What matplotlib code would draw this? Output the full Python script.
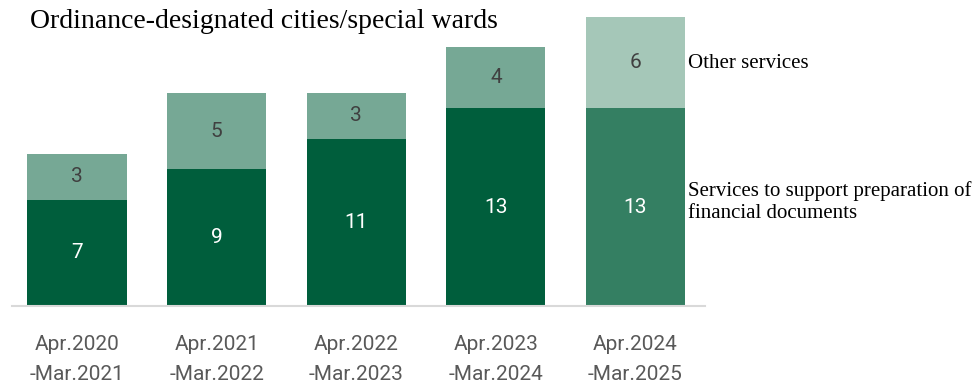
import matplotlib.pyplot as plt

periods = ["Apr.2020\n-Mar.2021", "Apr.2021\n-Mar.2022", "Apr.2022\n-Mar.2023",
           "Apr.2023\n-Mar.2024", "Apr.2024\n-Mar.2025"]
financial_docs = [7, 9, 11, 13, 13]
other_services = [3, 5, 3, 4, 6]

dark = ["#005E3C", "#005E3C", "#005E3C", "#005E3C", "#347F62"]
light = ["#76A895", "#76A895", "#76A895", "#76A895", "#A5C7B8"]

fig = plt.figure(figsize=(9.8, 3.84), dpi=100)
ax = fig.add_axes([12 / 980, 78 / 384, 693 / 980, 289 / 384])

x = range(len(periods))
ax.bar(x, financial_docs, width=0.71, color=dark)
ax.bar(x, other_services, width=0.71, bottom=financial_docs, color=light)

for i in x:
    ax.text(i, financial_docs[i] / 2, str(financial_docs[i]), ha="center", va="center",
            color="white", fontsize=15, family="Roboto")
    ax.text(i, financial_docs[i] + other_services[i] / 2, str(other_services[i]),
            ha="center", va="center", color="#404040", fontsize=15, family="Roboto")

ax.set_xlim(-0.466, 4.498)
ax.set_ylim(0, 19)
ax.set_xticks(list(x))
ax.set_xticklabels(periods, fontsize=15, color="#595959", family="Roboto", linespacing=1.7)
ax.tick_params(axis="x", length=0, pad=21)
ax.set_yticks([])
for s in ["top", "right", "left"]:
    ax.spines[s].set_visible(False)
ax.spines["bottom"].set_color("#D9D9D9")
ax.spines["bottom"].set_linewidth(1.5)

fig.text(30 / 980, 1 - 22 / 384, "Ordinance-designated cities/special wards",
         family="Liberation Serif", fontsize=20, va="center", ha="left")
fig.text(688 / 980, 1 - 64 / 384, "Other services",
         family="Liberation Serif", fontsize=15, va="center", ha="left")
fig.text(688 / 980, 1 - 202 / 384, "Services to support preparation of\nfinancial documents",
         family="Liberation Serif", fontsize=15, va="center", ha="left", linespacing=1.15)

fig.savefig("out.png", dpi=100)
